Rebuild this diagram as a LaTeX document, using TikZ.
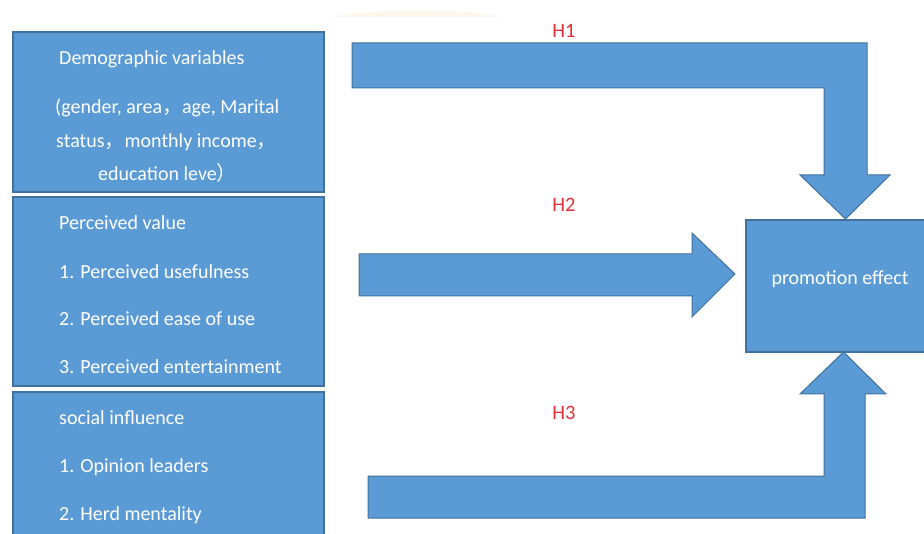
\documentclass[tikz,border=0pt]{standalone}
\usepackage{fontspec}
\setmainfont{Carlito}
\newfontfamily\cjk{Noto Sans CJK SC}
\definecolor{boxblue}{HTML}{5B9BD5}
\definecolor{edgeblue}{HTML}{41719C}
\definecolor{labred}{HTML}{E0303A}
\definecolor{wmark}{HTML}{FCF7EA}
\begin{document}
\begin{tikzpicture}[x=1pt,y=-1pt,
  blockbox/.style={fill=boxblue,draw=edgeblue,line width=1.2pt},
  blockarrow/.style={fill=boxblue,draw=edgeblue,line width=1pt,line join=miter},
  boxtext/.style={text=white,font=\fontsize{20}{22}\selectfont,anchor=west,inner sep=0pt},
  hlabel/.style={text=labred,font=\fontsize{20.5}{22}\selectfont,inner sep=0pt}]
\useasboundingbox (0,0) rectangle (924,534);
\clip (0,0) rectangle (924,534);
\fill[white] (0,0) rectangle (924,534);
% faint watermark
\fill[wmark] (330,17) .. controls (390,8) and (450,8) .. (505,17) -- cycle;
% left boxes
\draw[blockbox] (13,32) rectangle (324,192);
\node (demo) at (168,112) {};
\draw[blockbox] (13,197) rectangle (324,386);
\node (perc) at (168,291) {};
\draw[blockbox] (13,392) rectangle (324,545);
\node (soc) at (168,468) {};
% promotion box
\draw[blockbox] (746,220) rectangle (935,352);
\node[text=white,font=\fontsize{20}{22}\selectfont,inner sep=0pt] (promo) at (840,279) {promotion effect};
% texts box1
\node[boxtext] (t11) at (59,59) {Demographic variables};
\node[boxtext] (t12) at (55,108) {(gender, area{\cjk ，}age, Marital};
\node[boxtext] (t13) at (56,142) {status{\cjk ，}monthly income{\cjk ，}};
\node[boxtext] (t14) at (98,173) {education leve{\cjk ）}};
% texts box2
\node[boxtext] (t21) at (59,223) {Perceived value};
\node[boxtext] (t22) at (59,272) {1. Perceived usefulness};
\node[boxtext] (t23) at (59,319) {2. Perceived ease of use};
\node[boxtext] (t24) at (59,367) {3. Perceived entertainment};
% texts box3
\node[boxtext] (t31) at (59,418) {social influence};
\node[boxtext] (t32) at (59,467) {1. Opinion leaders};
\node[boxtext] (t33) at (59,515) {2. Herd mentality};
% H1 arrow
\draw[blockarrow] (352,43) -- (867,43) -- (867,175) -- (890,175) -- (845.5,219)
  -- (800,175) -- (824,175) -- (824,88) -- (352,88) -- cycle;
% H2 arrow
\draw[blockarrow] (359,254) -- (692,254) -- (692,233) -- (735,274)
  -- (692,317) -- (692,296) -- (359,296) -- cycle;
% H3 arrow
\draw[blockarrow] (368,476) -- (824,476) -- (824,394) -- (800,394) -- (843.5,352)
  -- (886,394) -- (865,394) -- (865,518) -- (368,518) -- cycle;
% labels
\node[hlabel] (h1) at (564,31) {H1};
\node[hlabel] (h2) at (564,205) {H2};
\node[hlabel] (h3) at (564,413) {H3};
\end{tikzpicture}
\end{document}
